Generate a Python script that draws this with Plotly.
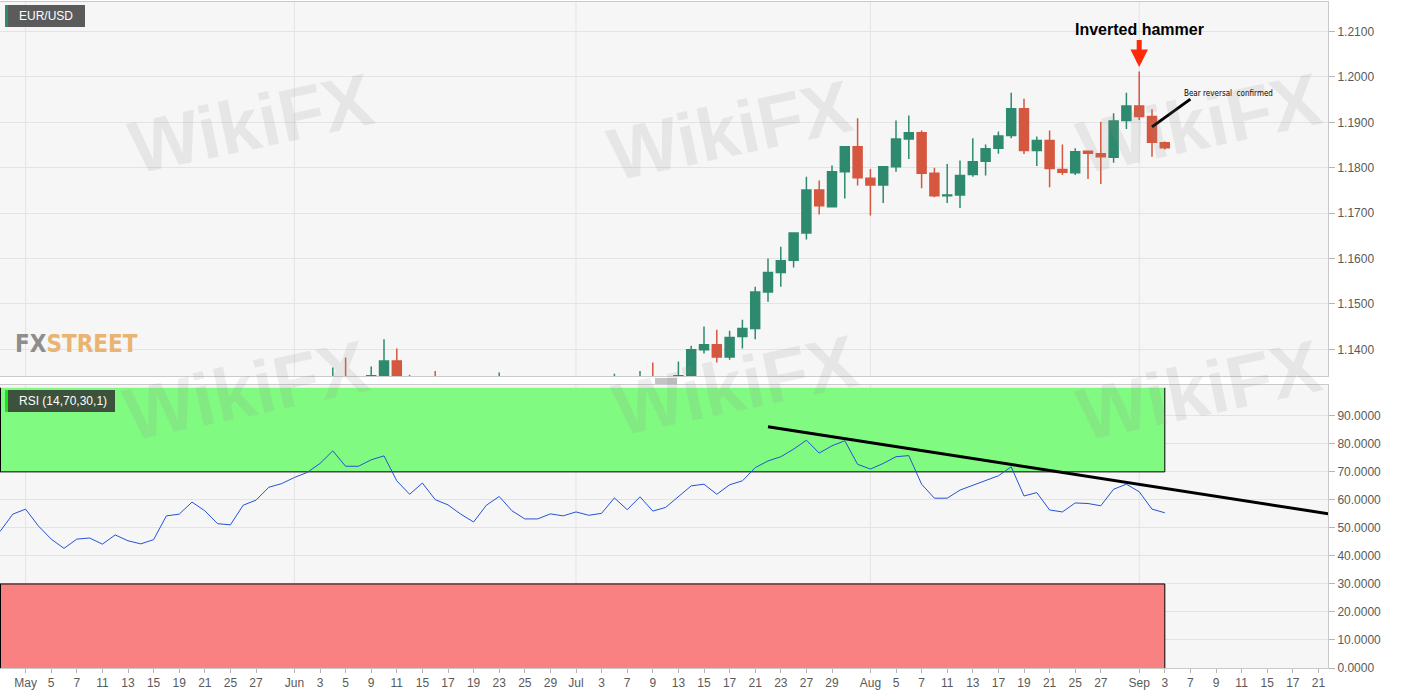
import pandas as pd
import plotly.graph_objects as go

# ---- data --------------------------------------------------------------
# trading-day axis (weekdays only), Apr 29 -> Sep 22 2020
axis_days = [d.strftime("%Y-%m-%d") for d in pd.bdate_range("2020-04-29", "2020-09-22")]

# EUR/USD daily candles (only the ones that reach into the visible price window)
candle_dates = [
    "2020-06-04", "2020-06-05", "2020-06-09", "2020-06-10", "2020-06-11", "2020-06-12",
    "2020-06-16", "2020-06-23", "2020-07-06", "2020-07-08", "2020-07-09", "2020-07-13",
    "2020-07-14", "2020-07-15", "2020-07-16", "2020-07-17", "2020-07-20", "2020-07-21",
    "2020-07-22", "2020-07-23", "2020-07-24", "2020-07-27", "2020-07-28", "2020-07-29",
    "2020-07-30", "2020-07-31", "2020-08-03", "2020-08-04", "2020-08-05", "2020-08-06",
    "2020-08-07", "2020-08-10", "2020-08-11", "2020-08-12", "2020-08-13", "2020-08-14",
    "2020-08-17", "2020-08-18", "2020-08-19", "2020-08-20", "2020-08-21", "2020-08-24",
    "2020-08-25", "2020-08-26", "2020-08-27", "2020-08-28", "2020-08-31", "2020-09-01",
    "2020-09-02", "2020-09-03",
]
candle_open = [
    1.1236, 1.1338, 1.1290, 1.1342, 1.1374, 1.1299,
    1.1325, 1.1263, 1.1248, 1.1277, 1.1330, 1.1300,
    1.1343, 1.1399, 1.1410, 1.1383, 1.1428, 1.1446,
    1.1526, 1.1569, 1.1596, 1.1656, 1.1751, 1.1714,
    1.1791, 1.1846, 1.1777, 1.1762, 1.1802, 1.1863,
    1.1877, 1.1788, 1.1738, 1.1740, 1.1785, 1.1814,
    1.1843, 1.1871, 1.1930, 1.1838, 1.1860, 1.1796,
    1.1789, 1.1836, 1.1831, 1.1823, 1.1904, 1.1936,
    1.1913, 1.1855,
]
candle_high = [
    1.1360, 1.1382, 1.1362, 1.1422, 1.1402, 1.1344,
    1.1352, 1.1349, 1.1346, 1.1352, 1.1371, 1.1373,
    1.1408, 1.1450, 1.1443, 1.1441, 1.1465, 1.1538,
    1.1600, 1.1626, 1.1657, 1.1780, 1.1772, 1.1805,
    1.1848, 1.1909, 1.1797, 1.1802, 1.1904, 1.1915,
    1.1882, 1.1800, 1.1808, 1.1816, 1.1865, 1.1851,
    1.1880, 1.1965, 1.1952, 1.1869, 1.1882, 1.1851,
    1.1843, 1.1838, 1.1901, 1.1920, 1.1965, 1.2012,
    1.1929, 1.1858,
]
candle_low = [
    1.1212, 1.1272, 1.1250, 1.1330, 1.1254, 1.1233,
    1.1228, 1.1250, 1.1240, 1.1263, 1.1255, 1.1290,
    1.1340, 1.1391, 1.1371, 1.1377, 1.1402, 1.1422,
    1.1505, 1.1538, 1.1580, 1.1642, 1.1697, 1.1713,
    1.1732, 1.1761, 1.1695, 1.1722, 1.1791, 1.1819,
    1.1755, 1.1735, 1.1722, 1.1711, 1.1780, 1.1783,
    1.1831, 1.1865, 1.1830, 1.1804, 1.1757, 1.1784,
    1.1784, 1.1775, 1.1764, 1.1811, 1.1885, 1.1905,
    1.1824, 1.1840,
]
candle_close = [
    1.1337, 1.1290, 1.1342, 1.1374, 1.1299, 1.1256,
    1.1263, 1.1307, 1.1310, 1.1330, 1.1287, 1.1342,
    1.1399, 1.1410, 1.1383, 1.1426, 1.1446, 1.1526,
    1.1569, 1.1595, 1.1656, 1.1751, 1.1716, 1.1791,
    1.1846, 1.1778, 1.1762, 1.1802, 1.1863, 1.1877,
    1.1788, 1.1738, 1.1740, 1.1783, 1.1813, 1.1842,
    1.1870, 1.1930, 1.1838, 1.1860, 1.1798, 1.1790,
    1.1835, 1.1832, 1.1824, 1.1903, 1.1936, 1.1913,
    1.1856, 1.1844,
]

# RSI(14), one value per trading day from Apr 29 to Sep 3
rsi_values = [
    48.7, 54.9, 56.7, 50.7, 46.0, 42.7, 46.0, 46.4, 44.2, 47.5,
    45.4, 44.3, 45.8, 54.3, 54.9, 59.2, 56.1, 51.5, 51.1, 58.1,
    59.9, 64.5, 65.8, 68.0, 69.8, 73.0, 77.5, 72.0, 72.0, 74.3,
    75.7, 66.8, 62.0, 66.0, 60.1, 58.2, 54.9, 52.1, 58.1, 61.2,
    56.1, 53.2, 53.2, 55.0, 54.3, 55.7, 54.5, 55.2, 60.7, 56.5,
    61.1, 56.0, 57.3, 61.1, 65.0, 65.6, 62.0, 65.4, 66.8, 71.5,
    73.9, 75.4, 78.1, 81.3, 76.7, 79.3, 81.1, 72.7, 71.0, 73.0,
    75.4, 75.8, 65.6, 60.6, 60.6, 63.5, 65.2, 67.0, 68.6, 71.8,
    61.4, 62.6, 56.4, 55.7, 58.9, 58.7, 57.9, 63.8, 65.6, 62.9,
    56.7, 55.4,
]
rsi_dates = axis_days[:len(rsi_values)]

# hand-drawn RSI trend line
trend_dates = ["2020-07-22", "2020-09-22"]
trend_rsi = [86.1, 54.9]

tick_dates = [
    "2020-05-01", "2020-05-05", "2020-05-07", "2020-05-11", "2020-05-13", "2020-05-15",
    "2020-05-19", "2020-05-21", "2020-05-25", "2020-05-27", "2020-06-01", "2020-06-03",
    "2020-06-05", "2020-06-09", "2020-06-11", "2020-06-15", "2020-06-17", "2020-06-19",
    "2020-06-23", "2020-06-25", "2020-06-29", "2020-07-01", "2020-07-03", "2020-07-07",
    "2020-07-09", "2020-07-13", "2020-07-15", "2020-07-17", "2020-07-21", "2020-07-23",
    "2020-07-27", "2020-07-29", "2020-08-03", "2020-08-05", "2020-08-07", "2020-08-11",
    "2020-08-13", "2020-08-17", "2020-08-19", "2020-08-21", "2020-08-25", "2020-08-27",
    "2020-09-01", "2020-09-03", "2020-09-07", "2020-09-09", "2020-09-11", "2020-09-15",
    "2020-09-17", "2020-09-21",
]
tick_text = [
    "May", "5", "7", "11", "13", "15", "19", "21", "25", "27",
    "Jun", "3", "5", "9", "11", "15", "17", "19", "23", "25", "29",
    "Jul", "3", "7", "9", "13", "15", "17", "21", "23", "27", "29",
    "Aug", "5", "7", "11", "13", "17", "19", "21", "25", "27",
    "Sep", "3", "7", "9", "11", "15", "17", "21",
]
month_starts = ["2020-05-01", "2020-06-01", "2020-07-01", "2020-08-03", "2020-09-01"]

price_ticks = [1.14, 1.15, 1.16, 1.17, 1.18, 1.19, 1.20, 1.21]
rsi_ticks = [0, 10, 20, 30, 40, 50, 60, 70, 80, 90]

# ---- styling -------------------------------------------------------------
W, H = 1405, 695
ML, MR, MT, MB = 0, 77, 2, 27
PW, PH = W - ML - MR, H - MT - MB

GREEN = "#2e8a6e"
RED = "#d5573f"
GRID = "#e3e3e3"
AXIS_FONT = dict(family="Liberation Sans, Arial, sans-serif", size=12, color="#5a5a5a")
NARROW = "Liberation Sans Narrow, DejaVu Sans Condensed, sans-serif"


def px(x):
    return (x - ML) / PW


def py(y):
    return (H - MB - y) / PH


fig = go.Figure()

fig.add_trace(go.Candlestick(
    x=candle_dates, open=candle_open, high=candle_high, low=candle_low, close=candle_close,
    increasing=dict(line=dict(color=GREEN, width=1.5), fillcolor=GREEN),
    decreasing=dict(line=dict(color=RED, width=1.5), fillcolor=RED),
    whiskerwidth=0, showlegend=False, xaxis="x", yaxis="y",
))

fig.add_trace(go.Scatter(
    x=rsi_dates, y=rsi_values, mode="lines",
    line=dict(color="#2453d6", width=1), showlegend=False, xaxis="x2", yaxis="y2",
))

fig.add_trace(go.Scatter(
    x=trend_dates, y=trend_rsi, mode="lines",
    line=dict(color="black", width=3), showlegend=False, xaxis="x2", yaxis="y2",
))

shapes = []
# month separators in both panels
for d in month_starts:
    for xr, yr in (("x", "y domain"), ("x2", "y2 domain")):
        shapes.append(dict(type="line", xref=xr, yref=yr, x0=d, x1=d, y0=0, y1=1,
                           line=dict(color=GRID, width=1), layer="below"))

# overbought / oversold bands
x_first, x_last = rsi_dates[0], rsi_dates[-1]
for lo, hi, col, edge in ((70, 100, "#7dfa7d", 70), (0, 30, "#fa7d7d", 30)):
    shapes.append(dict(type="rect", xref="x2", yref="y2", x0=x_first, x1=x_last, y0=lo, y1=hi,
                       fillcolor=col, opacity=0.97, line=dict(width=0), layer="between"))
    shapes.append(dict(type="line", xref="x2", yref="y2", x0=x_first, x1=x_last, y0=edge, y1=edge,
                       line=dict(color="black", width=1), layer="between"))
    shapes.append(dict(type="line", xref="x2", yref="y2", x0=x_last, x1=x_last, y0=lo, y1=hi,
                       line=dict(color="black", width=1), layer="between"))
    shapes.append(dict(type="line", xref="x2", yref="y2", x0=x_first, x1=x_first, y0=lo, y1=hi,
                       line=dict(color="black", width=2), layer="between"))

# "bear reversal" pointer line
shapes.append(dict(type="line", xref="x", yref="y", x0="2020-09-02", y0=1.1890,
                   x1="2020-09-07", y1=1.1951, line=dict(color="black", width=3)))

# label boxes
shapes += [
    dict(type="rect", xref="paper", yref="paper", x0=px(5), x1=px(85), y0=py(27), y1=py(5),
         fillcolor="#5b5b5b", line=dict(width=0)),
    dict(type="rect", xref="paper", yref="paper", x0=px(5), x1=px(8), y0=py(27), y1=py(5),
         fillcolor=GREEN, line=dict(width=0)),
    dict(type="rect", xref="paper", yref="paper", x0=px(5), x1=px(115), y0=py(412), y1=py(390),
         fillcolor="rgba(45,45,45,0.82)", line=dict(width=0)),
    dict(type="rect", xref="paper", yref="paper", x0=px(5), x1=px(8), y0=py(412), y1=py(390),
         fillcolor="#19e619", line=dict(width=0)),
]
# panel drag handle
for yy in (379, 381, 383):
    shapes.append(dict(type="line", xref="paper", yref="paper", x0=px(655), x1=px(677),
                       y0=py(yy), y1=py(yy), line=dict(color="#8a8a8a", width=1)))

annotations = [
    dict(xref="paper", yref="paper", x=px(17), y=py(16), xanchor="left", yanchor="middle",
         text="EUR/USD", showarrow=False,
         font=dict(family="Liberation Sans, Arial, sans-serif", size=12, color="white")),
    dict(xref="paper", yref="paper", x=px(17), y=py(401), xanchor="left", yanchor="middle",
         text="RSI (14,70,30,1)", showarrow=False,
         font=dict(family="Liberation Sans, Arial, sans-serif", size=12, color="white")),
    dict(xref="paper", yref="paper", x=px(13), y=py(344), xanchor="left", yanchor="middle",
         text='<b><span style="color:#8d8d8d">FX</span><span style="color:#e9b372">STREET</span></b>',
         showarrow=False, font=dict(family=NARROW, size=24)),
    dict(xref="x", yref="y", x="2020-09-01", y=1.2022, ax=0, ay=-37, axref="pixel", ayref="pixel",
         text="<b>Inverted hammer</b>", showarrow=True, arrowhead=2, arrowsize=0.7,
         arrowwidth=5, arrowcolor="#ff2a0a", standoff=0, startstandoff=0,
         font=dict(family="Liberation Sans, Arial, sans-serif", size=16, color="black")),
    dict(xref="x", yref="y", x="2020-09-10", y=1.19645, text="Bear reversal  confirmed",
         showarrow=False, font=dict(family=NARROW, size=8, color="black")),
]

# faint site watermarks
for wx, wy in ((120, 55), (730, 62), (1330, 55), (115, 390), (735, 385), (1330, 390)):
    annotations.append(dict(xref="paper", yref="paper", x=px(wx), y=py(wy), showarrow=False,
                            text="<b>WikiFX</b>", textangle=-12,
                            font=dict(family="Liberation Sans, Arial, sans-serif", size=74,
                                      color="rgba(150,140,140,0.15)")))

price_dom = [py(376), 1]
rsi_dom = [0, py(385)]
x_range = [0, 103.75]

common_x = dict(type="category", categoryarray=axis_days, range=x_range,
                showgrid=False, zeroline=False, showline=True, mirror=True,
                linecolor="#c9c9c9", linewidth=1)

fig.update_layout(
    width=W, height=H,
    margin=dict(l=ML, r=MR, t=MT, b=MB),
    paper_bgcolor="white", plot_bgcolor="#f6f6f6",
    boxgap=0.3, boxgroupgap=0,
    xaxis=dict(**common_x, anchor="y", showticklabels=False, ticks="",
               rangeslider=dict(visible=False)),
    xaxis2=dict(**common_x, anchor="y2", matches="x", tickmode="array",
                tickvals=tick_dates, ticktext=tick_text, tickangle=0,
                ticks="outside", ticklen=4, tickcolor="#b5b5b5", tickfont=AXIS_FONT),
    yaxis=dict(domain=price_dom, range=[1.13412, 1.2165], side="right", tickmode="array",
               tickvals=price_ticks, tickformat=".4f", gridcolor=GRID, zeroline=False,
               ticks="outside", ticklen=6, tickcolor="#b5b5b5", tickfont=AXIS_FONT,
               showline=True, mirror=True, linecolor="#c9c9c9"),
    yaxis2=dict(domain=rsi_dom, range=[0, 101], side="right", tickmode="array",
                tickvals=rsi_ticks, tickformat=".4f", gridcolor=GRID, zeroline=False,
                ticks="outside", ticklen=6, tickcolor="#b5b5b5", tickfont=AXIS_FONT,
                showline=True, mirror=True, linecolor="#c9c9c9"),
    shapes=shapes,
    annotations=annotations,
    hovermode=False,
)

# the page's default 8px body margin would shift the chart off the window
fig.write_html("out.html", config={"displayModeBar": False},
               post_script="document.body.style.margin='0px';")
